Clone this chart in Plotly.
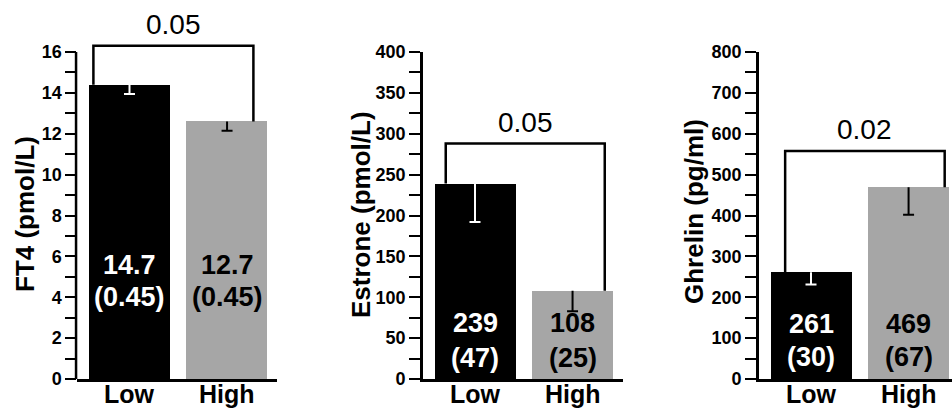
import plotly.graph_objects as go

W, H = 952, 412

# ---------------- data ----------------
groups = ["Low", "High"]
y_titles = ["FT4 (pmol/L)", "Estrone (pmol/L)", "Ghrelin (pg/ml)"]

ft4_mean = [14.4, 12.6]
ft4_err = [0.45, 0.45]
ft4_label = ["14.7", "12.7"]
ft4_label_sd = ["(0.45)", "(0.45)"]

estrone_mean = [239, 108]
estrone_err = [47, 25]
estrone_label = ["239", "108"]
estrone_label_sd = ["(47)", "(25)"]

ghrelin_mean = [261, 469]
ghrelin_err = [30, 67]
ghrelin_label = ["261", "469"]
ghrelin_label_sd = ["(30)", "(67)"]

p_values = ["0.05", "0.05", "0.02"]
bracket_tops = [16.3, 288, 558]

y_max = [16, 400, 800]
y_major = [2, 50, 100]
y_minor = [1, 25, 50]

# ---------------- style ----------------
BLACK = "#000000"
GREY = "#a6a6a6"
bar_colors = [BLACK, GREY]
err_colors = ["#ffffff", "#000000"]
text_colors = ["#ffffff", "#000000"]

FONT = "Liberation Sans, Arial, Helvetica, sans-serif"

BAR_W = 0.83
PX_PER_UNIT = 97.6
CAP_HALF = 5.5 / PX_PER_UNIT
AX_LW = 2.5

# panel geometry in pixels
x_dom_px = [(77.3, 277.3), (422.8, 622.8), (758.8, 952.0)]
x_ranges = [(-0.535, 1.515), (-0.535, 1.515), (-0.535, 1.445)]
Y_TOP_PX, Y_BOT_PX = 52, 379          # pixel rows of y_max and 0
EXT_TOP_PX = 36                       # extended plot top for panels whose bracket is above y_max
bracket_left = [-0.37, -0.30, -0.265]
bracket_right = [1.27, 1.33, 1.37]
title_pos_px = [(25, 214), (361, 215), (694, 212)]
label_line_px = [(265, 297), (322.5, 357.5), (324, 356.5)]
XLABEL_PX = 393.5

means = [ft4_mean, estrone_mean, ghrelin_mean]
errs = [ft4_err, estrone_err, ghrelin_err]
labels = [ft4_label, estrone_label, ghrelin_label]
labels_sd = [ft4_label_sd, estrone_label_sd, ghrelin_label_sd]


def py(p):
    return 1 - p / H


fig = go.Figure()
annotations = []
shapes = []
xpos = list(range(len(groups)))

for i in range(3):
    xa = "x" if i == 0 else f"x{i+1}"
    ya = "y" if i == 0 else f"y{i+1}"
    extend = bracket_tops[i] > y_max[i]
    top_px = EXT_TOP_PX if extend else Y_TOP_PX
    y_hi = y_max[i] * (Y_BOT_PX - top_px) / (Y_BOT_PX - Y_TOP_PX)

    # bars
    fig.add_trace(go.Bar(
        x=xpos, y=means[i], width=BAR_W,
        marker=dict(color=bar_colors, line=dict(width=0)),
        xaxis=xa, yaxis=ya, showlegend=False, hoverinfo="skip",
    ))
    # error bars (downward only)
    for j in range(len(groups)):
        top = means[i][j]
        bot = means[i][j] - errs[i][j]
        fig.add_trace(go.Scatter(
            x=[xpos[j], xpos[j], None, xpos[j] - CAP_HALF, xpos[j] + CAP_HALF],
            y=[top, bot, None, bot, bot],
            mode="lines", line=dict(color=err_colors[j], width=2),
            xaxis=xa, yaxis=ya, showlegend=False, hoverinfo="skip",
        ))
    # significance bracket
    xl = xpos[0] + bracket_left[i]
    xr = bracket_right[i]
    fig.add_trace(go.Scatter(
        x=[xl, xl, xr, xr],
        y=[means[i][0], bracket_tops[i], bracket_tops[i], means[i][1]],
        mode="lines", line=dict(color=BLACK, width=2.5),
        xaxis=xa, yaxis=ya, showlegend=False, hoverinfo="skip",
    ))
    annotations.append(dict(
        x=(xl + xr) / 2, y=bracket_tops[i], xref=xa, yref=ya,
        text=p_values[i], showarrow=False, yanchor="middle", yshift=21,
        font=dict(family=FONT, size=28, color=BLACK),
    ))
    # in-bar labels
    for j in range(len(groups)):
        for txt, lp in ((labels[i][j], label_line_px[i][0]),
                        (labels_sd[i][j], label_line_px[i][1])):
            annotations.append(dict(
                x=xpos[j], y=py(lp), xref=xa, yref="paper",
                text=txt, showarrow=False, yanchor="middle", xanchor="center",
                font=dict(family=FONT, size=27, color=text_colors[j], weight="bold"),
            ))
        # category labels under the axis
        annotations.append(dict(
            x=xpos[j], y=py(XLABEL_PX), xref=xa, yref="paper",
            text=groups[j], showarrow=False, yanchor="middle", xanchor="center",
            font=dict(family=FONT, size=25, color=BLACK, weight="bold"),
        ))
    # y titles
    tx, ty = title_pos_px[i]
    annotations.append(dict(
        x=tx / W, y=py(ty), xref="paper", yref="paper", text=y_titles[i],
        textangle=-90, showarrow=False, xanchor="center", yanchor="middle",
        font=dict(family=FONT, size=26, color=BLACK, weight="bold"),
    ))
    # y axis line drawn only from 0 to y_max when the plot area is extended
    if extend:
        lx = (x_dom_px[i][0] - AX_LW / 2) / W
        shapes.append(dict(
            type="line", xref="paper", yref=ya, x0=lx, x1=lx, y0=0, y1=y_max[i],
            line=dict(color=BLACK, width=AX_LW), layer="above",
        ))

    xkey = "xaxis" if i == 0 else f"xaxis{i+1}"
    ykey = "yaxis" if i == 0 else f"yaxis{i+1}"
    fig.layout[xkey] = dict(
        domain=[x_dom_px[i][0] / W, x_dom_px[i][1] / W],
        range=list(x_ranges[i]), anchor=ya, automargin=False,
        showline=True, linecolor=BLACK, linewidth=AX_LW,
        showgrid=False, zeroline=False, ticks="", showticklabels=False,
        fixedrange=True,
    )
    fig.layout[ykey] = dict(
        domain=[py(Y_BOT_PX), py(top_px)],
        range=[0, y_hi], anchor=xa, automargin=False,
        showline=not extend, linecolor=BLACK, linewidth=AX_LW,
        showgrid=False, zeroline=False,
        ticks="outside", ticklen=11, tickwidth=2, tickcolor=BLACK,
        dtick=y_major[i], tick0=0,
        minor=dict(dtick=y_minor[i], ticks="outside", ticklen=11, tickwidth=2,
                   tickcolor=BLACK, showgrid=False),
        tickfont=dict(family=FONT, size=18, color=BLACK, weight="bold"),
        fixedrange=True,
    )

fig.update_layout(
    width=W, height=H,
    margin=dict(l=0, r=0, t=0, b=0),
    paper_bgcolor="white", plot_bgcolor="white",
    bargap=0, annotations=annotations, shapes=shapes,
    showlegend=False,
)

fig.write_html("out.html", config={"displayModeBar": False},
               post_script="document.body.style.margin='0';")
